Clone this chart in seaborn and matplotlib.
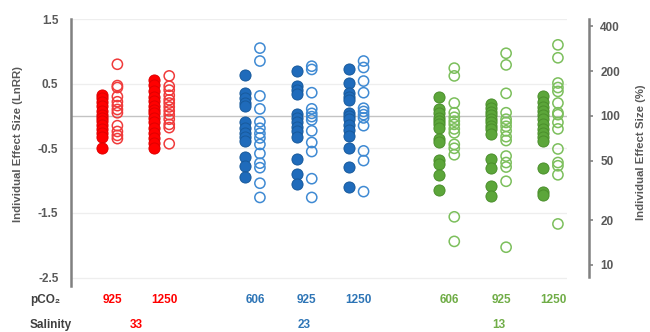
import numpy as np
import pandas as pd
import matplotlib
matplotlib.use("Agg")
import matplotlib.pyplot as plt
import matplotlib.transforms as mtransforms
from matplotlib.ticker import FixedLocator, NullLocator
import seaborn as sns

# ---- data: individual effect sizes (LnRR) ----
salinities = ["33", "23", "13"]
pco2_levels = [["925", "1250"], ["606", "925", "1250"], ["606", "925", "1250"]]

s33_925_filled = [0.33, 0.28, 0.22, 0.15, 0.08, 0.02, -0.03, -0.08, -0.14, -0.20, -0.26, -0.32, -0.50]
s33_925_open = [0.80, 0.47, 0.44, 0.30, 0.22, 0.16, 0.10, 0.05, -0.15, -0.24, -0.30, -0.35]
s33_1250_filled = [0.56, 0.48, 0.38, 0.30, 0.23, 0.16, 0.10, 0.04, -0.03, -0.10, -0.18, -0.26, -0.34, -0.42, -0.49]
s33_1250_open = [0.62, 0.46, 0.40, 0.32, 0.25, 0.20, 0.14, 0.08, 0.02, -0.05, -0.13, -0.18, -0.43]

s23_606_filled = [0.63, 0.36, 0.28, 0.20, 0.15, -0.10, -0.18, -0.26, -0.32, -0.38, -0.63, -0.78, -0.95]
s23_606_open = [1.05, 0.85, 0.31, 0.11, -0.09, -0.19, -0.27, -0.34, -0.44, -0.58, -0.73, -0.80, -1.04, -1.26]
s23_925_filled = [0.69, 0.46, 0.40, 0.34, 0.03, -0.03, -0.10, -0.17, -0.23, -0.33, -0.67, -0.89, -1.05]
s23_925_open = [0.77, 0.72, 0.36, 0.11, 0.04, -0.01, -0.06, -0.23, -0.41, -0.55, -0.97, -1.26]
s23_1250_filled = [0.72, 0.51, 0.35, 0.29, 0.25, 0.05, 0.0, -0.05, -0.14, -0.22, -0.31, -0.50, -0.79, -1.10]
s23_1250_open = [0.85, 0.75, 0.54, 0.36, 0.12, 0.07, 0.02, -0.03, -0.15, -0.54, -0.69, -1.17]

s13_606_filled = [0.30, 0.11, 0.05, -0.03, -0.08, -0.13, -0.19, -0.36, -0.40, -0.68, -0.74, -0.91, -1.14]
s13_606_open = [0.74, 0.62, 0.20, 0.05, -0.02, -0.08, -0.13, -0.20, -0.26, -0.44, -0.50, -0.60, -1.56, -1.94]
s13_925_filled = [0.18, 0.12, 0.06, 0.02, -0.04, -0.09, -0.15, -0.20, -0.28, -0.67, -0.80, -1.08, -1.24]
s13_925_open = [0.97, 0.79, 0.35, 0.05, -0.05, -0.10, -0.16, -0.23, -0.32, -0.38, -0.62, -0.72, -0.79, -1.01, -2.03]
s13_1250_filled = [0.31, 0.22, 0.14, 0.08, 0.01, -0.05, -0.13, -0.20, -0.26, -0.33, -0.38, -0.81, -1.18, -1.23]
s13_1250_open = [1.10, 0.90, 0.51, 0.44, 0.38, 0.20, 0.05, 0.02, -0.10, -0.20, -0.51, -0.72, -0.77, -0.91, -1.67]

left_ticks = [1.5, 0.5, -0.5, -1.5, -2.5]
right_ticks = [10, 20, 50, 100, 200, 400]

series = {
    ("33", "925"): (s33_925_filled, s33_925_open),
    ("33", "1250"): (s33_1250_filled, s33_1250_open),
    ("23", "606"): (s23_606_filled, s23_606_open),
    ("23", "925"): (s23_925_filled, s23_925_open),
    ("23", "1250"): (s23_1250_filled, s23_1250_open),
    ("13", "606"): (s13_606_filled, s13_606_open),
    ("13", "925"): (s13_925_filled, s13_925_open),
    ("13", "1250"): (s13_1250_filled, s13_1250_open),
}

# colours per salinity: (text, filled face, filled edge, open edge)
palette = {
    "33": ("#ff0000", "#ff0000", "#e00000", "#f03a3a"),
    "23": ("#2e75b6", "#1f6bbb", "#185a9c", "#3f8ad3"),
    "13": ("#70ad47", "#5ca63a", "#4b8f2c", "#7cbf5c"),
}

# ---- slot positions: unit spacing within a salinity, wider gap between ----
group_gap = 1.75
slots = {}
pos = 0.0
group_centres = {}
for gi, (sal, levels) in enumerate(zip(salinities, pco2_levels)):
    if gi > 0:
        pos += group_gap - 1
    start = pos
    for lvl in levels:
        slots[(sal, lvl)] = pos
        pos += 1
    group_centres[sal] = (start + pos - 1) / 2

offset = 0.145
rows = []
for (sal, lvl), (filled, hollow) in series.items():
    for v in filled:
        rows.append(dict(salinity=sal, pco2=lvl, kind="filled", x=slots[(sal, lvl)] - offset, lnrr=v))
    for v in hollow:
        rows.append(dict(salinity=sal, pco2=lvl, kind="open", x=slots[(sal, lvl)] + offset, lnrr=v))
df = pd.DataFrame(rows)

# ---- figure ----
sns.set_theme(style="white")
plt.rcParams["font.family"] = ["Liberation Sans", "DejaVu Sans"]
plt.rcParams["font.weight"] = "bold"

W, H = 650, 332
fig = plt.figure(figsize=(W / 100, H / 100), dpi=100)
ax = fig.add_axes([71 / W, 1 - 286 / H, (567 - 71) / W, 267 / H])

ymin, ymax = -2.63, 1.5
ax.set_ylim(ymin, ymax)
ax.set_xlim(-0.75, 8.82)

# faint gridlines and zero reference line
for t in left_ticks:
    ax.axhline(t, color="#eeeeee", lw=0.9, zorder=0)
ax.axhline(0, color="#c3c3c3", lw=1.0, zorder=1)

for sal in salinities:
    txt_c, face_c, edge_c, open_c = palette[sal]
    sub = df[(df.salinity == sal) & (df.kind == "filled")]
    sns.scatterplot(data=sub, x="x", y="lnrr", ax=ax, color=face_c, edgecolor=edge_c,
                    linewidth=0.7, s=64, marker="o", zorder=3, legend=False)
    sub = df[(df.salinity == sal) & (df.kind == "open")]
    sns.scatterplot(data=sub, x="x", y="lnrr", ax=ax, color=open_c, edgecolor=open_c,
                    linewidth=1.1, s=54, marker="o", zorder=3, legend=False)
    ax.collections[-1].set_facecolor("none")

ax.set_xlabel("")
ax.set_ylabel("")
ax.xaxis.set_major_locator(NullLocator())
ax.yaxis.set_major_locator(FixedLocator(left_ticks))
ax.set_yticklabels([f"{t:g}" for t in left_ticks])
ax.tick_params(axis="y", length=0, pad=9, labelsize=8.5, labelcolor="#595959")
for lab in ax.get_yticklabels():
    lab.set_fontweight("bold")

for side in ["top", "right", "bottom"]:
    ax.spines[side].set_visible(False)
ax.spines["left"].set_color("#808080")
ax.spines["left"].set_linewidth(1.8)

# secondary axis in percent (log scale, 100 * exp(LnRR))
ax2 = ax.twinx()
ax2.set_yscale("log")
ax2.set_ylim(100 * np.exp(ymin), 100 * np.exp(ymax))
ax2.yaxis.set_major_locator(FixedLocator(right_ticks))
ax2.yaxis.set_minor_locator(NullLocator())
ax2.set_yticklabels([str(t) for t in right_ticks])
ax2.tick_params(axis="y", length=3, width=1.2, color="#808080", pad=5,
                labelsize=8.5, labelcolor="#595959")
for lab in ax2.get_yticklabels():
    lab.set_fontweight("bold")
for side in ["top", "left", "bottom"]:
    ax2.spines[side].set_visible(False)
ax2.spines["right"].set_position(("outward", 16))
ax2.spines["right"].set_color("#808080")
ax2.spines["right"].set_linewidth(1.8)
ax2.spines["right"].set_bounds(8.3, 100 * np.exp(ymax))

fig.text(18 / W, 1 - 144 / H, "Individual Effect Size (LnRR)", rotation=90,
         ha="center", va="center", fontsize=8.2, fontweight="bold", color="#595959")
fig.text(641 / W, 1 - 152 / H, "Individual Effect Size (%)", rotation=90,
         ha="center", va="center", fontsize=8.2, fontweight="bold", color="#595959")

# category labels beneath the plot
tr = mtransforms.blended_transform_factory(ax.transData, fig.transFigure)
y_pco2 = 1 - 300 / H
y_sal = 1 - 325 / H
fig.text(30 / W, y_pco2, "pCO₂", ha="left", va="center", fontsize=8.5,
         fontweight="bold", color="#404040")
fig.text(30 / W, y_sal, "Salinity", ha="left", va="center", fontsize=8.5,
         fontweight="bold", color="#404040")
for (sal, lvl), xs in slots.items():
    ax.text(xs + 0.05, y_pco2, lvl, transform=tr, ha="center", va="center",
            fontsize=8.5, fontweight="bold", color=palette[sal][0])
for sal in salinities:
    ax.text(group_centres[sal], y_sal, sal, transform=tr, ha="center", va="center",
            fontsize=8.5, fontweight="bold", color=palette[sal][0])

fig.savefig("out.png", dpi=100)
